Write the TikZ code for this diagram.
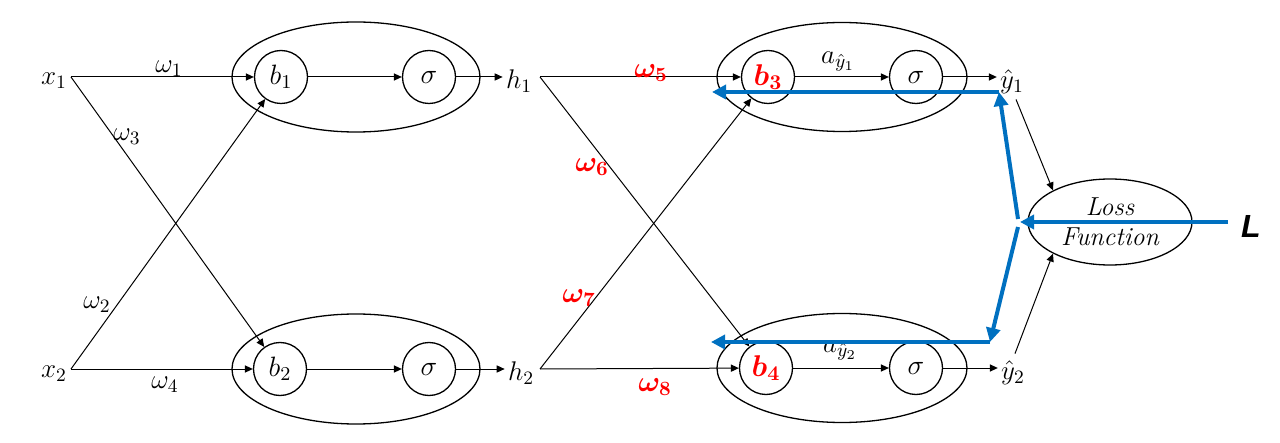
\RequirePackage{fix-cm}
\documentclass[tikz,border=0pt]{standalone}
\usepackage{fontspec}
\newfontfamily\Lfont{Liberation Sans}
\usepackage{bm}
\usetikzlibrary{arrows.meta,shapes.geometric}
\definecolor{pblue}{RGB}{0,112,192}
\begin{document}
\begin{tikzpicture}[x=0.5pt,y=-0.5pt,
  arr/.style={line width=0.5pt, -{Triangle[length=4pt,width=3.6pt]}},
  neuron/.style={circle, draw, line width=0.65pt, minimum size=26.5pt, inner sep=0pt, font=\fontsize{14}{16}\selectfont},
  grp/.style={ellipse, draw, line width=0.65pt, minimum width=124pt, minimum height=55pt, inner sep=0pt},
  lbl/.style={inner sep=1.5pt, font=\fontsize{13.5}{16}\selectfont},
  wlbl/.style={inner sep=0pt, font=\fontsize{13.5}{16}\selectfont},
  rlbl/.style={inner sep=0pt, text=red, font=\fontsize{14.5}{16}\selectfont},
  back/.style={pblue, line width=2pt, -{Triangle[length=7pt,width=7pt]}},
]
\useasboundingbox (0,0) rectangle (1280,443);

% group ellipses
\node[grp] (g1) at (356,77) {};
\node[grp] (g2) at (356,369) {};
\node[grp, minimum width=125pt, minimum height=54.5pt] (g3) at (842,77) {};
\node[grp, minimum width=125pt, minimum height=54.5pt] (g4) at (842,368) {};

% neurons
\node[neuron] (b1) at (281,77) {$b_1$};
\node[neuron] (s1) at (429,77) {$\sigma$};
\node[neuron] (b2) at (280,369) {$b_2$};
\node[neuron] (s2) at (429,369) {$\sigma$};
\node[neuron, text=red, font=\fontsize{15}{16}\selectfont] (b3) at (768,77) {$\bm{b_3}$};
\node[neuron] (s3) at (916,77) {$\sigma$};
\node[neuron, text=red, font=\fontsize{15}{16}\selectfont] (b4) at (766,368) {$\bm{b_4}$};
\node[neuron] (s4) at (916,368) {$\sigma$};

% input / hidden / output labels
\coordinate (x1p) at (71,77);
\coordinate (x2p) at (71,369);
\node[lbl] (x1) at (54,81) {$x_1$};
\node[lbl] (x2) at (54,374) {$x_2$};
\node[lbl] (h1) at (519,81) {$h_1$};
\node[lbl] (h2) at (521,373) {$h_2$};
\coordinate (h1p) at (540,77);
\coordinate (h2p) at (540,369);
\node[lbl] (y1) at (1012,82) {$\hat{y}_1$};
\node[lbl] (y2) at (1013,373) {$\hat{y}_2$};

% first layer connections
\draw[arr] (x1p) -- (b1);
\draw[arr] (x1p) -- (b2);
\draw[arr] (x2p) -- (b1);
\draw[arr] (x2p) -- (b2);
\draw[arr] (b1) -- (s1);
\draw[arr] (b2) -- (s2);
\draw[arr] (s1) -- (h1.west |- s1);
\draw[arr] (s2) -- (h2.west |- s2);

% second layer connections
\draw[arr] (h1p) -- (b3);
\draw[arr] (h1p) -- (b4);
\draw[arr] (h2p) -- (b3);
\draw[arr] (h2p) -- (b4);
\draw[arr] (b3) -- (s3);
\draw[arr] (b4) -- (s4);
\draw[arr] (s3) -- (y1.west |- s3);
\draw[arr] (s4) -- (y2.west |- s4);

% weights
\node[wlbl] (w1) at (169,69) {$\omega_1$};
\node[wlbl] (w3) at (127,137) {$\omega_3$};
\node[wlbl] (w2) at (97,305) {$\omega_2$};
\node[wlbl] (w4) at (165,385) {$\omega_4$};
\node[rlbl] (w5) at (651,73) {$\bm{\omega_5}$};
\node[rlbl] (w6) at (592,167) {$\bm{\omega_6}$};
\node[rlbl] (w7) at (579,298) {$\bm{\omega_7}$};
\node[rlbl] (w8) at (655,387) {$\bm{\omega_8}$};
\node[wlbl] (a1) at (838,62) {$a_{\hat{y}_1}$};
\node[wlbl] (a2) at (840,351) {$a_{\hat{y}_2}$};

% loss function
\node[ellipse, draw, line width=0.65pt, minimum width=82pt, minimum height=43pt, inner sep=0pt,
      align=center, font=\fontsize{13}{15}\selectfont\itshape] (loss) at (1110,222) {Loss\\Function};
\draw[arr] ([xshift=2pt,yshift=-1pt]y1.south) -- (loss.151);
\draw[arr] ([xshift=1pt,yshift=2pt]y2.north) -- (loss.209);
\node[inner sep=0pt, font=\Lfont\bfseries\itshape\fontsize{16}{18}\selectfont] (L) at (1251,226) {L};

% backpropagation (blue)
\coordinate (Lp) at (1228,222);
\coordinate (vtx) at (1020,222);
\coordinate (vtxu) at (1018,219);
\coordinate (vtxd) at (1018,227);
\coordinate (c1) at (999,92);
\coordinate (c2) at (990,342);
\coordinate (e1) at (712,92);
\coordinate (e2) at (711,342);
\draw[back] (Lp) -- (vtx);
\draw[back] (vtxu) -- (c1);
\draw[back] (c1) -- (e1);
\draw[back] (vtxd) -- (c2);
\draw[back] (c2) -- (e2);
\end{tikzpicture}
\end{document}
